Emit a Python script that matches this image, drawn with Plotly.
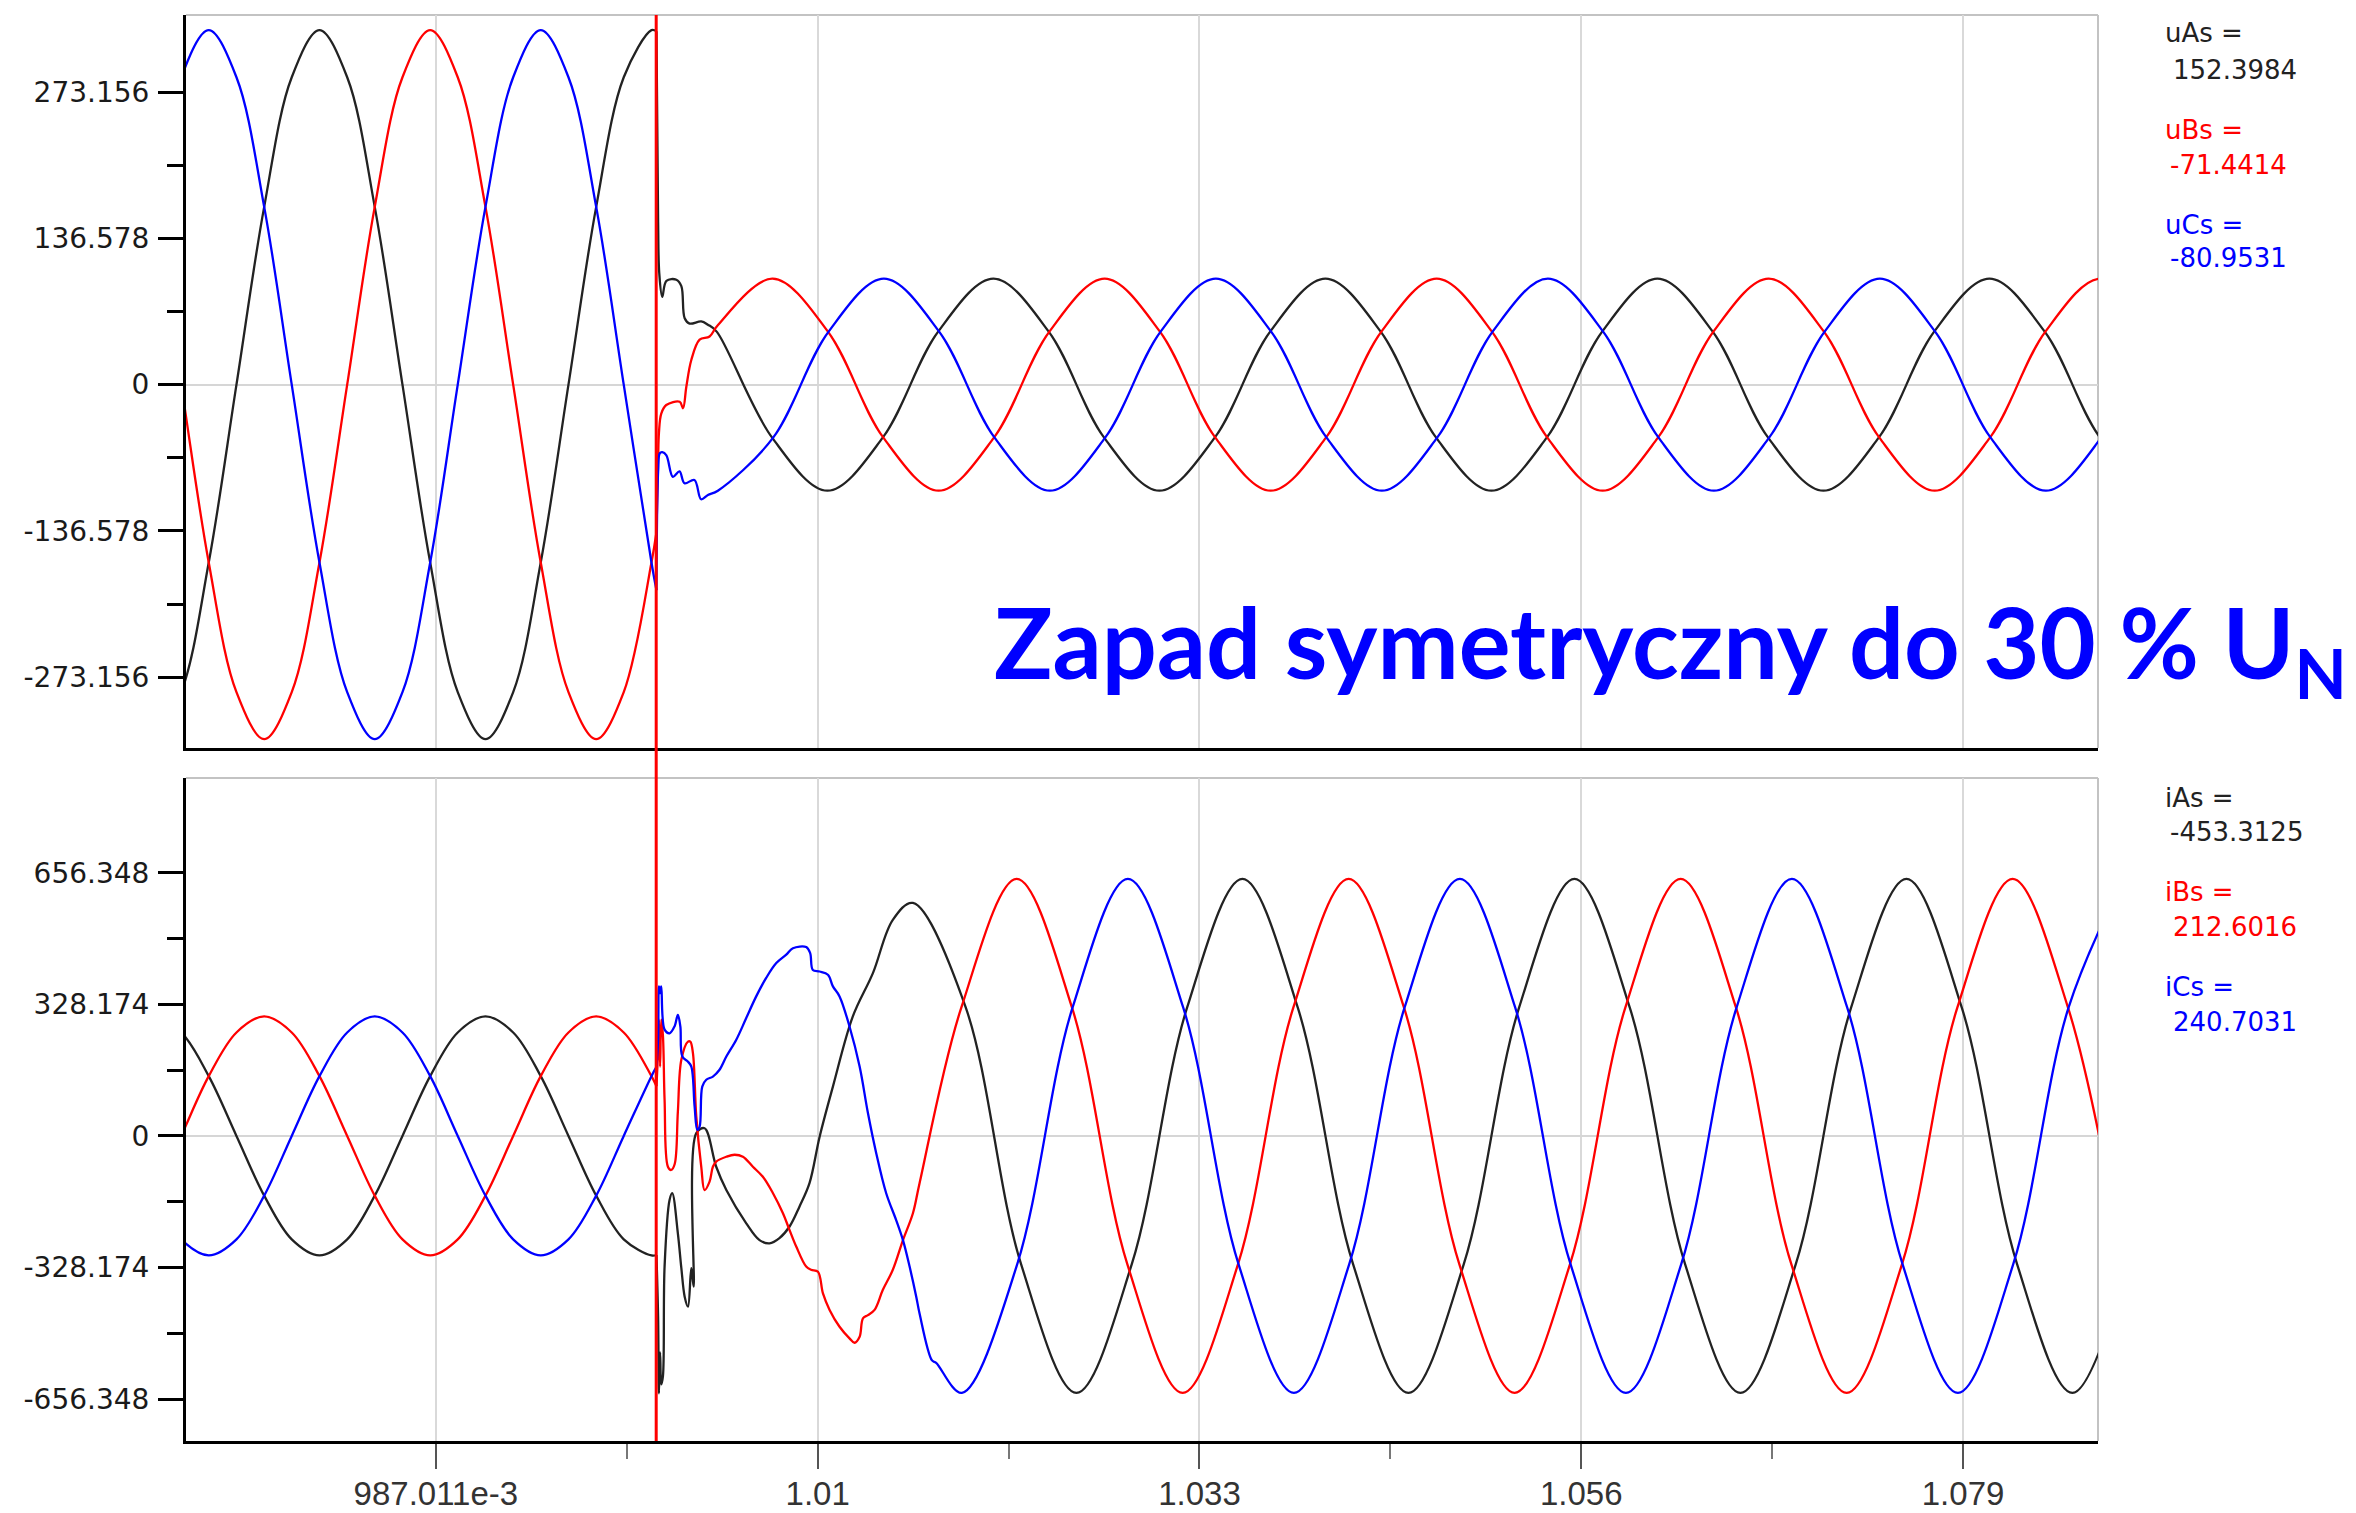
import plotly.graph_objects as go

# ---------------- DATA ----------------
X_TICKS = [0.987011, 1.010011, 1.033011, 1.056011, 1.079011]
X_TICK_TEXT = ["987.011e-3", "1.01", "1.033", "1.056", "1.079"]
X_MINOR = [0.998511, 1.021511, 1.044511, 1.067511]
FAULT_T = 1.000285

U_TICKS = [-273.156, -136.578, 0, 136.578, 273.156]
U_TICK_TEXT = ["-273.156", "-136.578", "0", "136.578", "273.156"]
U_MINOR = [-204.867, -68.289, 68.289, 204.867]
I_TICKS = [-656.348, -328.174, 0, 328.174, 656.348]
I_TICK_TEXT = ["-656.348", "-328.174", "0", "328.174", "656.348"]
I_MINOR = [-492.261, -164.087, 164.087, 492.261]

# pre-fault samples (shared time base)
PRE_T = [0.97000, 0.97167, 0.97333, 0.97500, 0.97667, 0.97833, 0.98000,
         0.98167, 0.98333, 0.98500, 0.98667, 0.98833, 0.99000, 0.99167,
         0.99333, 0.99500, 0.99667, 0.99833, 1.00000, 1.00030]
UA_PRE = [-331, -287, -166, 0, 166, 287, 331, 287, 166, 0, -166, -287, -331,
          -287, -166, 0, 166, 287, 331, 330]
UB_PRE = [166, 0, -166, -287, -331, -287, -166, 0, 166, 287, 331, 287, 166,
          0, -166, -287, -331, -287, -166, -138]
UC_PRE = [166, 287, 331, 287, 166, 0, -166, -287, -331, -287, -166, 0, 166,
          287, 331, 287, 166, 0, -166, -192]
IA_PRE = [298, 258, 149, 0, -149, -258, -298, -258, -149, 0, 149, 258, 298,
          258, 149, 0, -149, -258, -298, -297]
IB_PRE = [-149, 0, 149, 258, 298, 258, 149, 0, -149, -258, -298, -258, -149,
          0, 149, 258, 298, 258, 149, 124]
IC_PRE = [-149, -258, -298, -258, -149, 0, 149, 258, 298, 258, 149, 0, -149,
          -258, -298, -258, -149, 0, 149, 172]

# post-fault voltages: transient samples
UA_TR_T = [1.00030, 1.00040, 1.00047, 1.00065, 1.00090, 1.00150, 1.00180,
           1.00200, 1.00230, 1.00300, 1.00340]
UA_TR = [330, 152, 104, 82, 97, 98, 92, 62, 57, 59, 56]
UB_TR_T = [1.00030, 1.00040, 1.00045, 1.00059, 1.00089, 1.00170, 1.00190,
           1.00210, 1.00240, 1.00290, 1.00350]
UB_TR = [-138, -71, -45, -27, -19, -16, -22, -2, 23, 42, 45]
UC_TR_T = [1.00030, 1.00040, 1.00050, 1.00065, 1.00090, 1.00129, 1.00169,
           1.00199, 1.00259, 1.00299, 1.00340]
UC_TR = [-192, -81, -64, -63, -66, -86, -81, -92, -89, -107, -103]

# post-fault voltages: steady samples
UA_ST_T = [1.00393, 1.00727, 1.01060, 1.01393, 1.01727, 1.02060, 1.02393,
           1.02727, 1.03060, 1.03393, 1.03727, 1.04060, 1.04393, 1.04727,
           1.05060, 1.05393, 1.05727, 1.06060, 1.06393, 1.06727, 1.07060,
           1.07393, 1.07727, 1.08060, 1.08393, 1.08727, 1.09060]
UA_ST = [49.5, -49.5, -99, -49.5, 49.5, 99, 49.5, -49.5, -99, -49.5, 49.5, 99,
         49.5, -49.5, -99, -49.5, 49.5, 99, 49.5, -49.5, -99, -49.5, 49.5, 99,
         49.5, -49.5, -99]
UB_ST_T = [1.00397, 1.00730, 1.01063, 1.01397, 1.01730, 1.02063, 1.02397,
           1.02730, 1.03063, 1.03397, 1.03730, 1.04063, 1.04397, 1.04730,
           1.05063, 1.05397, 1.05730, 1.06063, 1.06397, 1.06730, 1.07063,
           1.07397, 1.07730, 1.08063, 1.08397, 1.08730, 1.09063]
UB_ST = [55, 99, 49.5, -49.5, -99, -49.5, 49.5, 99, 49.5, -49.5, -99, -49.5,
         49.5, 99, 49.5, -49.5, -99, -49.5, 49.5, 99, 49.5, -49.5, -99, -49.5,
         49.5, 99, 49.5]
UC_ST_T = [1.00400, 1.00733, 1.01067, 1.01400, 1.01733, 1.02067, 1.02400,
           1.02733, 1.03067, 1.03400, 1.03733, 1.04067, 1.04400, 1.04733,
           1.05067, 1.05400, 1.05733, 1.06067, 1.06400, 1.06733, 1.07067,
           1.07400, 1.07733, 1.08067, 1.08400, 1.08733, 1.09067]
UC_ST = [-99, -49.5, 49.5, 99, 49.5, -49.5, -99, -49.5, 49.5, 99, 49.5, -49.5,
         -99, -49.5, 49.5, 99, 49.5, -49.5, -99, -49.5, 49.5, 99, 49.5, -49.5,
         -99, -49.5, 49.5]

# post-fault currents: transient samples
IA_TR_T = [1.00030, 1.00040, 1.00045, 1.00052, 1.00059, 1.00069, 1.00079,
           1.00109, 1.00125, 1.00159, 1.00180, 1.00200, 1.00220, 1.00240,
           1.00254, 1.00270, 1.00320, 1.00390, 1.00451, 1.00571, 1.00651,
           1.00711, 1.00771, 1.00832, 1.00892, 1.00952, 1.01013, 1.01093,
           1.01213, 1.01334, 1.01454, 1.01575]
IA_TR = [-297, -453, -642, -540, -620, -600, -326, -160, -143, -243, -330,
         -401, -426, -330, -376, 7, 19, -77, -135, -218, -260, -268, -255,
         -226, -176, -118, -2, 123, 298, 406, 539, 581]
IB_TR_T = [1.00030, 1.00040, 1.00045, 1.00052, 1.00059, 1.00069, 1.00079,
           1.00099, 1.00119, 1.00140, 1.00159, 1.00180, 1.00220, 1.00234,
           1.00250, 1.00270, 1.00300, 1.00320, 1.00350, 1.00370, 1.00390,
           1.00451, 1.00501, 1.00551, 1.00611, 1.00671, 1.00732, 1.00792,
           1.00832, 1.00872, 1.00932, 1.00962, 1.01003, 1.01033, 1.01073,
           1.01133, 1.01193, 1.01223, 1.01254, 1.01274, 1.01304, 1.01344,
           1.01394, 1.01454, 1.01515, 1.01575, 1.01615]
IB_TR = [124, 213, 290, 173, 290, 250, 90, -77, -85, -70, 60, 190, 235, 235,
         206, 48, -77, -135, -114, -77, -64, -52, -47, -52, -77, -102, -143,
         -193, -235, -276, -326, -334, -339, -393, -434, -476, -505, -516,
         -501, -455, -447, -434, -384, -334, -260, -193, -118]
IC_TR_T = [1.00030, 1.00040, 1.00045, 1.00052, 1.00059, 1.00079, 1.00109,
           1.00139, 1.00159, 1.00174, 1.00186, 1.00220, 1.00240, 1.00260,
           1.00276, 1.00290, 1.00306, 1.00330, 1.00370, 1.00410, 1.00451,
           1.00511, 1.00571, 1.00631, 1.00691, 1.00752, 1.00812, 1.00852,
           1.00932, 1.00956, 1.00972, 1.01013, 1.01063, 1.01093, 1.01133,
           1.01193, 1.01254, 1.01304, 1.01354, 1.01414, 1.01474, 1.01515,
           1.01555, 1.01595, 1.01615, 1.01690, 1.01715]
IC_TR = [172, 241, 373, 356, 373, 265, 256, 273, 302, 273, 198, 185, 173, 73,
         15, 23, 123, 140, 148, 165, 198, 240, 294, 348, 394, 431, 452, 468,
         471, 456, 414, 410, 402, 373, 348, 273, 173, 57, -43, -143, -210,
         -260, -326, -401, -443, -560, -566]

# post-fault currents: steady samples
IA_ST_T = [1.01893, 1.02227, 1.02560, 1.02893, 1.03227, 1.03560, 1.03893,
           1.04227, 1.04560, 1.04893, 1.05227, 1.05560, 1.05893, 1.06227,
           1.06560, 1.06893, 1.07227, 1.07560, 1.07893, 1.08227, 1.08560,
           1.08893]
IA_ST = [320.5, -320.5, -641, -320.5, 320.5, 641, 320.5, -320.5, -641, -320.5,
         320.5, 641, 320.5, -320.5, -641, -320.5, 320.5, 641, 320.5, -320.5,
         -641, -320.5]
IB_ST_T = [1.01867, 1.02200, 1.02533, 1.02867, 1.03200, 1.03533, 1.03867,
           1.04200, 1.04533, 1.04867, 1.05200, 1.05533, 1.05867, 1.06200,
           1.06533, 1.06867, 1.07200, 1.07533, 1.07867, 1.08200, 1.08533,
           1.08867]
IB_ST = [320.5, 641, 320.5, -320.5, -641, -320.5, 320.5, 641, 320.5, -320.5,
         -641, -320.5, 320.5, 641, 320.5, -320.5, -641, -320.5, 320.5, 641,
         320.5, -320.5]
IC_ST_T = [1.01870, 1.02203, 1.02537, 1.02870, 1.03203, 1.03537, 1.03870,
           1.04203, 1.04537, 1.04870, 1.05203, 1.05537, 1.05870, 1.06203,
           1.06537, 1.06870, 1.07203, 1.07537, 1.07870, 1.08203, 1.08537,
           1.08870]
IC_ST = [-641, -320.5, 320.5, 641, 320.5, -320.5, -641, -320.5, 320.5, 641,
         320.5, -320.5, -641, -320.5, 320.5, 641, 320.5, -320.5, -641, -320.5,
         320.5, 641]

U_LABELS = [("uAs =", "152.3984"), ("uBs =", "-71.4414"), ("uCs =", "-80.9531")]
I_LABELS = [("iAs =", "-453.3125"), ("iBs =", "212.6016"), ("iCs =", "240.7031")]
TITLE = "Zapad symetryczny do 30 % U<sub>N</sub>"

# ---------------- STYLE / LAYOUT ----------------
OFF = 8                       # default page margin of the html body
W, H = 2356 - OFF, 1513 - OFF
PL, PR, PT, PB = 186, 2098, 15, 1441   # plot area in page pixels
BLACK, RED, BLUE = "#222222", "#ff0000", "#0000ff"
COLORS = [BLACK, RED, BLUE]


def px(xp):
    return (xp - PL) / (PR - PL)


def py(yp):
    return (PB - yp) / (PB - PT)


fig = go.Figure()


def add(t, v, color, xa, ya):
    fig.add_trace(go.Scatter(
        x=t, y=v, mode="lines", xaxis=xa, yaxis=ya,
        line=dict(color=color, width=2.3, shape="spline", smoothing=1),
        showlegend=False, hoverinfo="skip"))


pre_u = [UA_PRE, UB_PRE, UC_PRE]
pre_i = [IA_PRE, IB_PRE, IC_PRE]
post_u = [(UA_TR_T + UA_ST_T, UA_TR + UA_ST),
          (UB_TR_T + UB_ST_T, UB_TR + UB_ST),
          (UC_TR_T + UC_ST_T, UC_TR + UC_ST)]
post_i = [(IA_TR_T + IA_ST_T, IA_TR + IA_ST),
          (IB_TR_T + IB_ST_T, IB_TR + IB_ST),
          (IC_TR_T + IC_ST_T, IC_TR + IC_ST)]

for k in range(3):
    add(PRE_T, pre_u[k], COLORS[k], "x", "y")
    add(post_u[k][0], post_u[k][1], COLORS[k], "x", "y")
    add(PRE_T, pre_i[k], COLORS[k], "x2", "y2")
    add(post_i[k][0], post_i[k][1], COLORS[k], "x2", "y2")

XR = [0.97196, 1.08714]
y_tickfont = dict(family="DejaVu Sans", size=28, color="#1a1a1a")
common_y = dict(showline=True, linecolor="black", linewidth=3,
                ticks="outside", ticklen=25, tickwidth=3, tickcolor="black",
                tickmode="array", showgrid=False, zeroline=True,
                zerolinecolor="#d6d6d6", zerolinewidth=2,
                tickfont=y_tickfont, ticklabelstandoff=3, fixedrange=True)
common_x = dict(range=XR, showline=True, linecolor="black", linewidth=3,
                tickmode="array", tickvals=X_TICKS, showgrid=True,
                gridcolor="#d9d9d9", gridwidth=2, zeroline=False,
                fixedrange=True)

fig.update_layout(
    width=W, height=H, autosize=False,
    margin=dict(l=PL - OFF, r=OFF + W - PR, t=PT - OFF, b=OFF + H - PB,
                autoexpand=False),
    paper_bgcolor="white", plot_bgcolor="white",
    xaxis=dict(common_x, anchor="y", domain=[0, 1], ticks="",
               showticklabels=False),
    xaxis2=dict(common_x, anchor="y2", domain=[0, 1], ticktext=X_TICK_TEXT,
                ticks="outside", ticklen=25, tickwidth=2, tickcolor="#555555",
                tickfont=dict(family="Liberation Sans", size=33,
                              color="#333333"),
                ticklabelstandoff=-4,
                minor=dict(tickvals=X_MINOR, ticks="outside", ticklen=15,
                           tickwidth=2, tickcolor="#777777", showgrid=False)),
    yaxis=dict(common_y, anchor="x", domain=[py(748), 1],
               range=[-339.2, 345.1], tickvals=U_TICKS, ticktext=U_TICK_TEXT,
               minor=dict(tickvals=U_MINOR, ticks="outside", ticklen=16,
                          tickwidth=3, tickcolor="black", showgrid=False)),
    yaxis2=dict(common_y, anchor="x2", domain=[0, py(778)],
                range=[-761, 892.7], tickvals=I_TICKS, ticktext=I_TICK_TEXT,
                minor=dict(tickvals=I_MINOR, ticks="outside", ticklen=16,
                           tickwidth=3, tickcolor="black", showgrid=False)),
)

# gray top / right frame of both panels
for xr, yr in (("x domain", "y domain"), ("x2 domain", "y2 domain")):
    fig.add_shape(type="line", xref=xr, yref=yr, x0=0, x1=1, y0=1, y1=1,
                  line=dict(color="#c3c3c3", width=2), layer="below")
    fig.add_shape(type="line", xref=xr, yref=yr, x0=1, x1=1, y0=0, y1=1,
                  line=dict(color="#c3c3c3", width=2), layer="below")

# red cursor line at the fault instant
fig.add_shape(type="line", xref="x", yref="paper", x0=FAULT_T, x1=FAULT_T,
              y0=0, y1=1, line=dict(color=RED, width=3), layer="above")

# cursor value read-outs
lab_font = "DejaVu Sans"
u_rows = [(33, 70), (130, 165), (225, 258)]
i_rows = [(798, 832), (892, 927), (987, 1022)]
for labels, rows in ((U_LABELS, u_rows), (I_LABELS, i_rows)):
    for (name, val), (y1, y2), c in zip(labels, rows, COLORS):
        fig.add_annotation(text=name, xref="paper", yref="paper", x=px(2163),
                           y=py(y1), xanchor="left", yanchor="middle",
                           showarrow=False,
                           font=dict(family=lab_font, size=26, color=c))
        fig.add_annotation(text=val, xref="paper", yref="paper",
                           x=px(2168 if val.startswith("-") else 2171),
                           y=py(y2), xanchor="left", yanchor="middle",
                           showarrow=False,
                           font=dict(family=lab_font, size=26, color=c))

# big blue caption
fig.add_annotation(text="<b>" + TITLE + "</b>", xref="paper", yref="paper",
                   x=px(992), y=py(648), xanchor="left", yanchor="middle",
                   showarrow=False,
                   font=dict(family="Lato", size=97, color=BLUE))

fig.write_html("out.html")
